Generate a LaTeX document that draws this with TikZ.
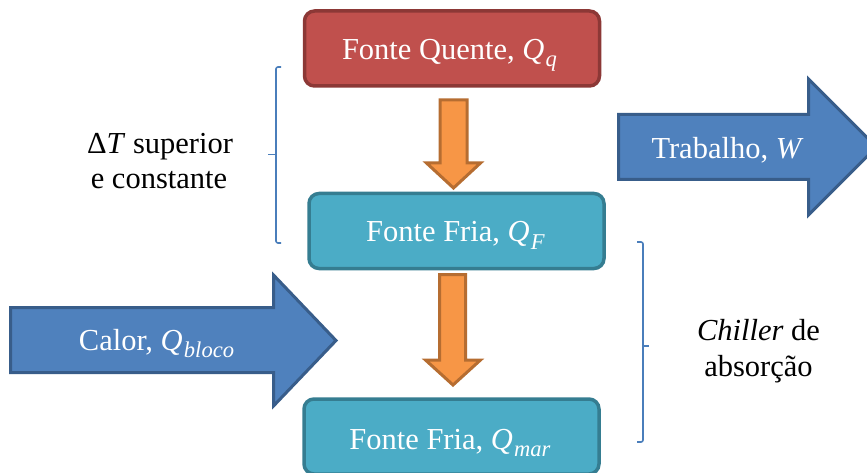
\documentclass[tikz,border=0pt]{standalone}
\usepackage{fontspec}
\setmainfont{Liberation Serif}
\usepackage{graphicx}

% italic symbol with a lowered, reduced subscript
\newcommand\qsym[2]{\textit{#1}\kern0.04em\raisebox{-0.24em}{\scalebox{0.74}{\textit{#2}}}}

\definecolor{hotfill}{HTML}{C0504D}
\definecolor{hotline}{HTML}{8C3836}
\definecolor{coldfill}{HTML}{4BACC6}
\definecolor{coldline}{HTML}{357D91}
\definecolor{flowfill}{HTML}{F79646}
\definecolor{flowline}{HTML}{B66D31}
\definecolor{bluefill}{HTML}{4F81BD}
\definecolor{blueline}{HTML}{385D8A}
\definecolor{bracecol}{HTML}{4A7EBB}

\begin{document}
\begin{tikzpicture}[x=1pt,y=-1pt,
  box/.style={draw, line width=3.5pt, rounded corners=10pt,
    minimum width=295pt, minimum height=75pt, inner sep=0pt},
  hotbox/.style={box, fill=hotfill, draw=hotline},
  coldbox/.style={box, fill=coldfill, draw=coldline},
  flow/.style={fill=flowfill, draw=flowline, line width=3pt},
  bigarrow/.style={fill=bluefill, draw=blueline, line width=3pt},
  boxtext/.style={anchor=base, text=white, inner sep=0pt,
    font=\fontsize{30.5}{36}\selectfont},
  sidetext/.style={anchor=base, text=black, inner sep=0pt,
    font=\fontsize{30.5}{36}\selectfont},
  bracket/.style={draw=bracecol, line width=1.6pt, rounded corners=2pt}]
\useasboundingbox (0,0) rectangle (867,473);

% blocks
\node[hotbox]  (hot)   at (452,48.5)  {};
\node[coldbox] (cold)  at (456.5,231) {};
\node[coldbox] (sea)   at (451.5,436.5) {};

% heat flow arrows between blocks
\draw[flow] (440,100) -- (467,100) -- (467,163) -- (480.5,163)
  -- (453.5,188) -- (426.5,163) -- (440,163) -- cycle;
\draw[flow] (439.5,274.5) -- (465.5,274.5) -- (465.5,360) -- (480.5,360)
  -- (453,385) -- (425.5,360) -- (439.5,360) -- cycle;

% work output and heat input
\draw[bigarrow] (618.5,114.5) -- (808.5,114.5) -- (808.5,79) -- (876.5,147)
  -- (808.5,215) -- (808.5,179.5) -- (618.5,179.5) -- cycle;
\draw[bigarrow] (10.5,307.5) -- (273.5,307.5) -- (273.5,275) -- (336,340.5)
  -- (273.5,406) -- (273.5,372.5) -- (10.5,372.5) -- cycle;

% labels
\node[boxtext] (hotlbl)  at (449.5,59.5)  {Fonte Quente, \qsym{Q}{q}};
\node[boxtext] (coldlbl) at (455.5,241.7) {Fonte Fria, \qsym{Q}{F}};
\node[boxtext] (sealbl)  at (450,449.3)   {Fonte Fria, \qsym{Q}{mar}};
\node[boxtext] (worklbl) at (727.5,159)   {Trabalho, \textit{W}};
\node[boxtext] (heatlbl) at (156.5,350.5) {Calor, \qsym{Q}{bloco}};

% brackets with their captions
\draw[bracket] (281,67) -- (276,67) -- (276,243) -- (281,243);
\draw[bracket] (276,154.5) -- (268,154.5);
\draw[bracket] (637,242) -- (643,242) -- (643,442) -- (637,442);
\draw[bracket] (643,346) -- (649,346);

\node[sidetext] (dt1) at (160,154) {Δ\textit{T} superior};
\node[sidetext] (dt2) at (159,189) {e constante};
\node[sidetext] (ch1) at (758.5,340) {\textit{Chiller} de};
\node[sidetext] (ch2) at (758.5,376.5) {absorção};
\end{tikzpicture}
\end{document}
